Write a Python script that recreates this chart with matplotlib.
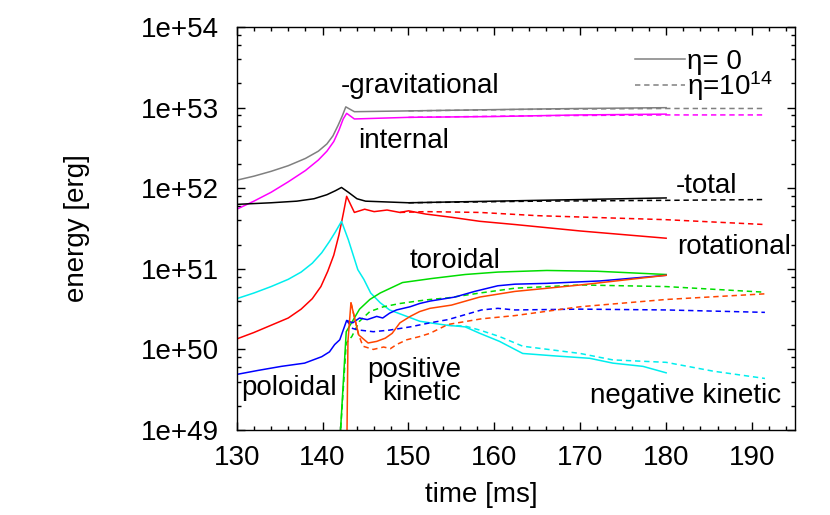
#energy evolution plot, log scale, two resistivities
import numpy as np
import matplotlib
matplotlib.use("Agg")
import matplotlib.pyplot as plt
from matplotlib.ticker import FixedLocator, LogLocator, MultipleLocator, NullFormatter
from matplotlib.lines import Line2D

plt.rcParams['font.family'] = ['Liberation Sans', 'DejaVu Sans']
plt.rcParams['mathtext.fontset'] = 'custom'
plt.rcParams['mathtext.rm'] = 'Liberation Sans'
plt.rcParams['font.size'] = 20

# log10(energy); solid = eta 0, dashed = eta 1e14
grav_t = [130, 132, 134, 136, 138, 139.5, 140.5, 141.2, 141.8, 142.3, 142.7, 143.7, 150, 162.5, 170, 180]
grav_e = [52.10, 52.15, 52.21, 52.28, 52.37, 52.46, 52.55, 52.65, 52.78, 52.90, 53.01, 52.95,
          52.96, 52.98, 52.99, 53.00]
grav_dt = [150, 165, 180, 191.5]
grav_de = [52.96, 52.98, 52.99, 52.99]

int_t = [130, 132, 134, 136, 138, 139.5, 140.5, 141.3, 141.9, 142.4, 142.8, 143.7, 150, 160, 170, 180]
int_e = [51.74, 51.84, 51.95, 52.08, 52.22, 52.35, 52.46, 52.58, 52.72, 52.86, 52.93, 52.86,
         52.88, 52.89, 52.91, 52.92]
int_dt = [150, 165, 180, 191.5]
int_de = [52.88, 52.90, 52.91, 52.91]

tot_t = [130, 134, 137, 139, 140.5, 141.5, 142.2, 143, 144, 145, 150, 160, 170, 180]
tot_e = [51.80, 51.82, 51.84, 51.87, 51.92, 51.97, 52.01, 51.95, 51.87, 51.84, 51.82, 51.84, 51.86, 51.88]
tot_dt = [150, 165, 180, 191.5]
tot_de = [51.82, 51.84, 51.85, 51.86]

rot_t = [130, 132, 134, 136, 137.5, 138.8, 139.8, 140.6, 141.3, 141.9, 142.4, 142.8, 143.7, 144.9,
         146, 147.5, 149, 150, 152, 155, 158.3, 162.4, 170, 180]
rot_e = [50.13, 50.21, 50.30, 50.39, 50.50, 50.63, 50.78, 50.97, 51.17, 51.42, 51.68, 51.90, 51.70, 51.74,
         51.71, 51.73, 51.70, 51.72, 51.68, 51.64, 51.59, 51.55, 51.47, 51.38]
rot_dt = [149, 152, 158.3, 165, 180, 191.5]
rot_de = [51.70, 51.71, 51.70, 51.66, 51.61, 51.55]

neg_t = [130, 132, 134, 136, 137.5, 138.8, 139.9, 140.8, 141.5, 142.2, 143, 144.1, 144.8, 145.6,
         146.7, 147.8, 149.8, 151.3, 152.5, 154.5, 156.6, 158.3, 160.6, 163.3, 167, 171.1, 173.8,
         177.3, 180]
neg_e = [50.63, 50.70, 50.78, 50.87, 50.96, 51.07, 51.20, 51.34, 51.46, 51.59, 51.36, 50.99, 50.87, 50.70,
         50.58, 50.49, 50.41, 50.35, 50.33, 50.30, 50.28, 50.20, 50.10, 49.95, 49.92, 49.89, 49.83,
         49.79, 49.71]
neg_dt = [154.5, 156.6, 158.3, 160.6, 163.3, 170, 173.8, 180, 185.5, 191.5]
neg_de = [50.30, 50.29, 50.24, 50.16, 50.04, 49.95, 49.87, 49.84, 49.73, 49.64]

tor_t = [141.98, 142.75, 143.2, 144.3, 145.5, 146.7, 147.5, 149.3, 152.7, 156.6, 160.4, 166.1, 172, 180]
tor_e = [48.8, 50.22, 50.30, 50.50, 50.62, 50.70, 50.74, 50.83, 50.88, 50.93, 50.96, 50.98, 50.97, 50.93]
tor_dt = [141.98, 142.75, 143.4, 144.3, 145.5, 147.1, 149, 151, 152.5, 154.6, 158.3, 162.4, 170, 180, 191.5]
tor_de = [48.8, 50.08, 50.16, 50.35, 50.47, 50.53, 50.57, 50.60, 50.62, 50.64, 50.70, 50.76, 50.80, 50.78, 50.71]

pol_t = [130, 132.5, 135.2, 137.9, 139.9, 140.8, 141.4, 142, 142.4, 142.8, 143.5, 144.3, 145.2, 146.3,
         147, 147.8, 148.6, 150.2, 151.3, 152.5, 155.4, 157.7, 160.4, 162.4, 166.1, 172.3, 180]
pol_e = [49.69, 49.74, 49.79, 49.83, 49.91, 49.97, 50.06, 50.12, 50.24, 50.36, 50.33, 50.39, 50.37, 50.41,
         50.39, 50.45, 50.49, 50.53, 50.57, 50.60, 50.65, 50.72, 50.79, 50.81, 50.82, 50.85, 50.92]
pol_dt = [142.8, 143.5, 144.3, 145.9, 147.8, 150.2, 152.5, 154.6, 158.5, 160.4, 162.4, 170, 180, 191.5]
pol_de = [50.36, 50.26, 50.24, 50.22, 50.24, 50.28, 50.33, 50.37, 50.49, 50.51, 50.49, 50.50, 50.49, 50.46]

pos_t = [142.7, 142.95, 143.3, 144.2, 145.3, 146.3, 147.3, 148.1, 149, 150.2, 151.3, 152.5,
         155, 158.3, 162.4, 170, 180]
pos_e = [47.5, 50.1, 50.58, 50.18, 50.08, 50.10, 50.14, 50.20, 50.33, 50.41, 50.47, 50.51,
         50.55, 50.65, 50.72, 50.80, 50.92]
pos_dt = [143.3, 144.2, 144.7, 145.9, 147.1, 147.9, 148.6, 149.8, 151.3, 152.5, 154.6, 158.5,
          162.4, 170, 180, 191.5]
pos_de = [50.58, 50.18, 50.04, 50.00, 50.03, 50.01, 50.06, 50.12, 50.16, 50.20, 50.31, 50.38,
          50.42, 50.53, 50.62, 50.69]

series = [
    (grav_t, grav_e, grav_dt, grav_de, '#808080'),
    (int_t, int_e, int_dt, int_de, '#ff00ff'),
    (tot_t, tot_e, tot_dt, tot_de, '#000000'),
    (rot_t, rot_e, rot_dt, rot_de, '#ff0000'),
    (neg_t, neg_e, neg_dt, neg_de, '#00eeee'),
    (tor_t, tor_e, tor_dt, tor_de, '#00dd00'),
    (pol_t, pol_e, pol_dt, pol_de, '#0000ff'),
    (pos_t, pos_e, pos_dt, pos_de, '#ff4500'),
]

# (text, t, log10 E, horizontal alignment)
labels = [
    ('-gravitational', 142.1, 53.18, 'left'),
    ('internal', 144.1, 52.50, 'left'),
    ('-total', 181.1, 51.94, 'left'),
    ('rotational', 181.25, 51.18, 'left'),
    ('toroidal', 150.15, 51.01, 'left'),
    ('poloidal', 130.55, 49.43, 'left'),
    ('positive', 156.15, 49.66, 'right'),
    ('kinetic', 156.15, 49.37, 'right'),
    ('negative kinetic', 171.1, 49.33, 'left'),
]

fig = plt.figure(figsize=(8.3, 5.15), dpi=100)
ax = fig.add_axes([0.2852, 0.165, 0.6726, 0.7824])

for t, e, dt, de, c in series:
    ax.plot(t, 10 ** np.array(e), color=c, lw=1.1)
    ax.plot(dt, 10 ** np.array(de), color=c, lw=1.1, dashes=(3.5, 2.5))

for txt, t, e, ha in labels:
    ax.text(t, 10 ** e, txt, ha=ha, va='baseline', fontsize=20)

ax.set_yscale('log')
ax.set_xlim(130, 195)
ax.set_ylim(1e49, 1e54)
ax.xaxis.set_major_locator(MultipleLocator(10))
ax.xaxis.set_minor_locator(MultipleLocator(2))
ax.set_xticks([130, 140, 150, 160, 170, 180, 190])
yt = [10.0 ** k for k in range(49, 55)]
ax.yaxis.set_major_locator(FixedLocator(yt))
ax.set_yticklabels(['1e+%d' % k for k in range(49, 55)])
ax.yaxis.set_minor_locator(LogLocator(base=10, subs=(2, 4, 6, 8)))
ax.yaxis.set_minor_formatter(NullFormatter())

ax.tick_params(which='both', direction='in', top=True, right=True, width=1.0)
ax.tick_params(which='major', length=6)
ax.tick_params(which='minor', length=3)
ax.tick_params(axis='x', which='major', pad=11)
ax.tick_params(axis='y', which='major', pad=13)
for s in ax.spines.values():
    s.set_linewidth(1.0)

ax.set_xlabel('time [ms]')
ax.xaxis.set_label_coords(0.438, -0.13)
ax.set_ylabel('energy [erg]')
ax.yaxis.set_label_coords(-0.263, 0.5)

handles = [Line2D([], [], color='#808080', lw=1.1),
           Line2D([], [], color='#808080', lw=1.1, dashes=(3.5, 2.5))]
ax.legend(handles, ['η= 0', 'η=$\\mathregular{10^{14}}$'], loc='upper right',
          frameon=False, handlelength=1.8, handletextpad=0.1, labelspacing=-0.2,
          borderpad=0.3, borderaxespad=0.48)

fig.savefig('out.png', dpi=100)
